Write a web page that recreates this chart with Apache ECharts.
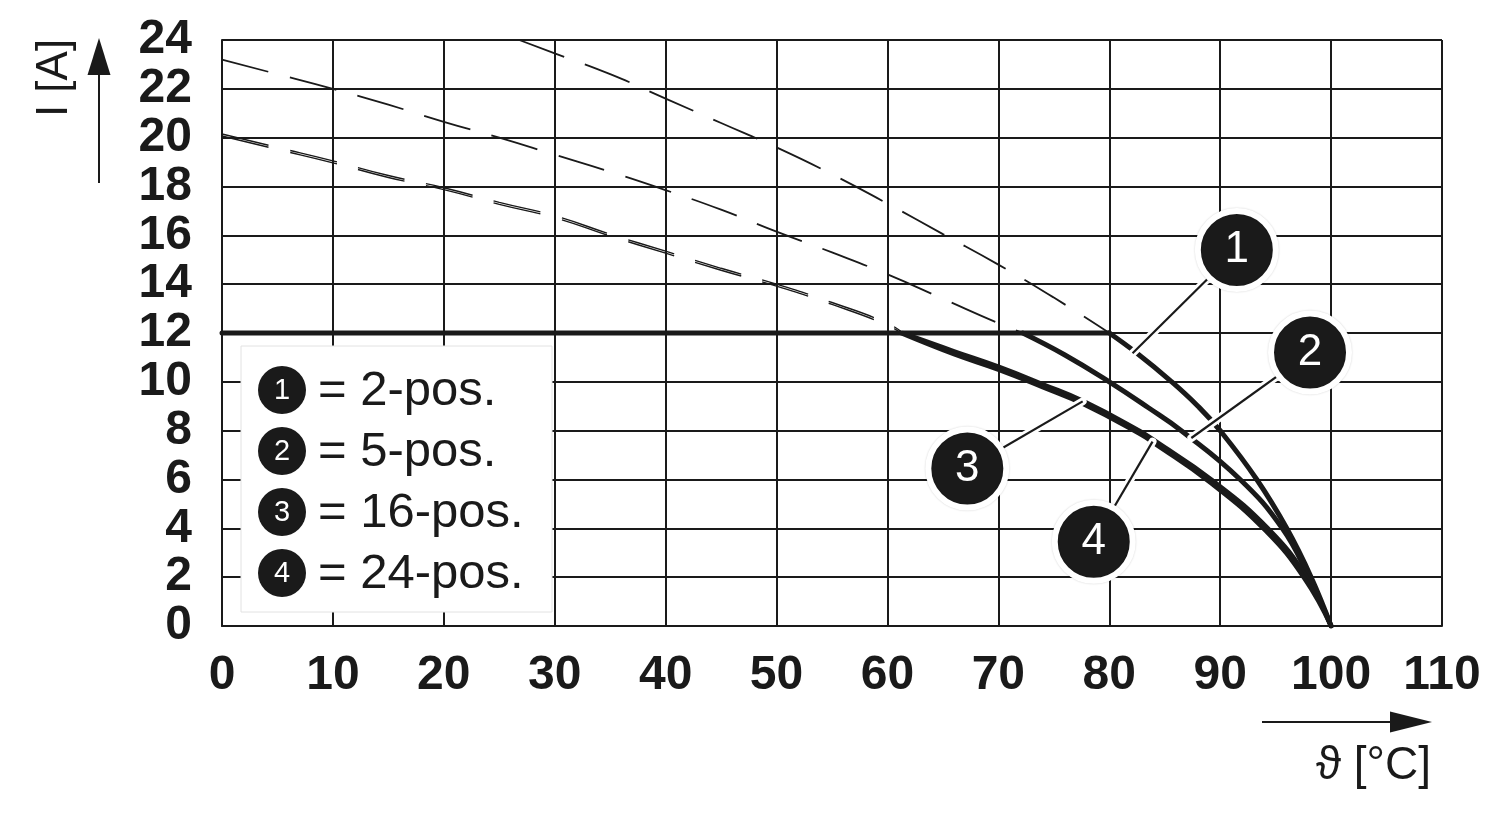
<!DOCTYPE html>
<html><head><meta charset="utf-8">
<script src="https://cdn.jsdelivr.net/npm/echarts@6/dist/echarts.min.js"></script>
<style>html,body{margin:0;padding:0;background:#fff}#c{width:1500px;height:821px}</style>
</head><body><div id="c"></div>
<script>
// ---- data ----
const xMin = 0, xMax = 110, xStep = 10;
const yMin = 0, yMax = 24, yStep = 2;

// rated-current limit (common solid line at 12 A)
const ratedLimit = [[0,12],[80,12]];

// dashed (extrapolated) parts above the 12 A limit
const curve1Dashed = [[26.8,24.0],[30,23.45],[35,22.6],[40,21.6],[45,20.6],[50,19.6],[55,18.5],[60,17.3],[65,16.05],[70,14.8],[75,13.45],[80,12.0]];
const curve2Dashed = [[0,23.2],[5,22.6],[10,22.0],[15,21.35],[20,20.65],[25,20.0],[30,19.3],[35,18.6],[40,17.85],[45,17.05],[50,16.15],[55,15.3],[60,14.4],[65,13.4],[70,12.4],[72.2,12.0]];
const curve3Dashed = [[0,20.15],[5,19.6],[10,19.05],[15,18.45],[20,17.95],[25,17.35],[30,16.8],[35,16.05],[40,15.35],[45,14.65],[50,14.0],[55,13.25],[60,12.4],[61.4,12.0]];
const curve4Dashed = [[0,20.07],[5,19.52],[10,18.97],[15,18.37],[20,17.87],[25,17.27],[30,16.72],[35,15.97],[40,15.27],[45,14.57],[50,13.92],[55,13.17],[60,12.32],[61.2,12.0]];

// solid derating curves below the limit
const curve1Solid = [[80,12],[82.5,11.17],[85.5,10.05],[88,9.0],[90,8.0],[93.3,6.0],[96.0,4.0],[98.2,2.0],[100,0]];
const curve2Solid = [[72.2,12],[76,11.1],[80,10.0],[83.5,8.95],[86.5,8.0],[91.8,6.0],[95.6,4.0],[98.0,2.0],[100,0]];
const curve3Solid = [[61.4,12],[66,11.25],[70,10.62],[74,9.9],[77.7,9.2],[82.7,8.0],[84,7.62],[89.2,6.0],[94.3,4.0],[97.8,2.0],[100,0]];
const curve4Solid = [[61.2,12],[66,11.13],[70,10.5],[74,9.78],[77.7,9.08],[82.7,7.88],[84,7.5],[89.1,5.88],[94.1,3.9],[97.6,1.95],[100,0]];

// callouts
const calloutIds = ['1','2','3','4'];
const calloutCenters = [[91.5,15.4],[98.1,11.2],[67.2,6.45],[78.6,3.45]];
const calloutTargets = [[82.1,11.17],[87.4,7.7],[77.6,9.2],[83.9,7.55]];

// legend
const legendIds = ['1','2','3','4'];
const legendTexts = ['= 2-pos.','= 5-pos.','= 16-pos.','= 24-pos.'];

const yAxisName = 'I [A]';
const xAxisName = 'ϑ [°C]';

// ---- chart ----
const ink = '#1a1a1a';
const FONT = '"Liberation Sans", Arial, Helvetica, sans-serif';
const chart = echarts.init(document.getElementById('c'), null, {renderer: 'canvas'});

const dashedSeries = [curve1Dashed, curve2Dashed, curve3Dashed, curve4Dashed].map((d, i) => ({
  type: 'line', data: d, symbol: 'none', silent: true, z: 2, smooth: 0.5,
  lineStyle: {color: ink, width: i < 2 ? 1.8 : 1.4, type: [48, 22]}
}));
const limitSeries = {
  type: 'line', data: ratedLimit, symbol: 'none', silent: true, z: 3,
  lineStyle: {color: ink, width: 5, cap: 'round'}
};
const solidSeries = [curve1Solid, curve2Solid, curve3Solid, curve4Solid].map((d, i) => ({
  type: 'line', data: d, symbol: 'none', silent: true, z: 3,
  smooth: 0.45,
  lineStyle: {color: ink, width: i < 2 ? 5 : 4.5, cap: 'round', join: 'round'}
}));
const leaderSeries = [];
calloutCenters.forEach((c, i) => {
  const d = [c, calloutTargets[i]];
  leaderSeries.push({type: 'line', data: d, symbol: 'none', silent: true, z: 4,
    lineStyle: {color: '#ffffff', width: 8, cap: 'round'}});
  leaderSeries.push({type: 'line', data: d, symbol: 'none', silent: true, z: 5,
    lineStyle: {color: ink, width: 2.2, cap: 'butt'}});
});
const calloutSeries = {
  type: 'scatter', z: 6, silent: true,
  data: calloutCenters.map((c, i) => ({value: c, name: calloutIds[i]})),
  symbol: 'circle', symbolSize: 78,
  itemStyle: {color: ink, opacity: 1, borderColor: '#ffffff', borderWidth: 6, shadowColor: 'rgba(0,0,0,0.18)', shadowBlur: 2},
  label: {show: true, position: 'inside', formatter: p => p.name, color: '#ffffff',
    fontSize: 44, fontFamily: FONT}
};

// legend graphics
const legendGraphics = [{
  type: 'rect', shape: {x: 241, y: 346, width: 311, height: 266},
  style: {fill: '#ffffff', stroke: '#e2e2e2', lineWidth: 1}, z: 10
}];
legendIds.forEach((id, i) => {
  const cy = 390 + 61 * i;
  legendGraphics.push({type: 'circle', shape: {cx: 282, cy: cy, r: 24}, style: {fill: ink}, z: 11});
  legendGraphics.push({type: 'text', x: 282, y: cy + 1, z: 12,
    style: {text: id, fill: '#fff', font: '29px ' + FONT, align: 'center', verticalAlign: 'middle'}});
  legendGraphics.push({type: 'text', x: 318, y: cy + 1, z: 12,
    style: {text: legendTexts[i], fill: ink, font: '49px ' + FONT, align: 'left', verticalAlign: 'middle'}});
});

const axisGraphics = [
  {type: 'text', x: 55, y: 78, rotation: Math.PI / 2, z: 10,
    style: {text: yAxisName, fill: ink, font: '44px ' + FONT, align: 'center', verticalAlign: 'middle'}},
  {type: 'line', shape: {x1: 99, y1: 183, x2: 99, y2: 70}, style: {stroke: ink, lineWidth: 2}, z: 10},
  {type: 'polygon', shape: {points: [[99, 38], [87.5, 75], [110.5, 75]]}, style: {fill: ink}, z: 10},
  {type: 'line', shape: {x1: 1262, y1: 722, x2: 1395, y2: 722}, style: {stroke: ink, lineWidth: 2}, z: 10},
  {type: 'polygon', shape: {points: [[1432, 722], [1390, 711.5], [1390, 732.5]]}, style: {fill: ink}, z: 10},
  {type: 'text', x: 1431, y: 766, z: 10,
    style: {text: xAxisName, fill: ink, font: '46px ' + FONT, align: 'right', verticalAlign: 'middle'}}
];

chart.setOption({
  animation: false,
  backgroundColor: '#ffffff',
  grid: {left: 222, right: 58, top: 40, bottom: 195, containLabel: false},
  xAxis: {
    type: 'value', min: xMin, max: xMax, interval: xStep,
    axisLine: {show: true, lineStyle: {color: ink, width: 2}},
    axisTick: {show: false},
    splitLine: {show: true, lineStyle: {color: ink, width: 2}},
    axisLabel: {color: ink, fontSize: 48, fontWeight: 'bold', fontFamily: FONT, margin: 26}
  },
  yAxis: {
    type: 'value', min: yMin, max: yMax, interval: yStep,
    axisLine: {show: true, lineStyle: {color: ink, width: 2}},
    axisTick: {show: false},
    splitLine: {show: true, lineStyle: {color: ink, width: 2}},
    axisLabel: {color: ink, fontSize: 48, fontWeight: 'bold', fontFamily: FONT, margin: 30}
  },
  graphic: legendGraphics.concat(axisGraphics),
  series: dashedSeries.concat([limitSeries], solidSeries, leaderSeries, [calloutSeries])
});
</script>
</body></html>
